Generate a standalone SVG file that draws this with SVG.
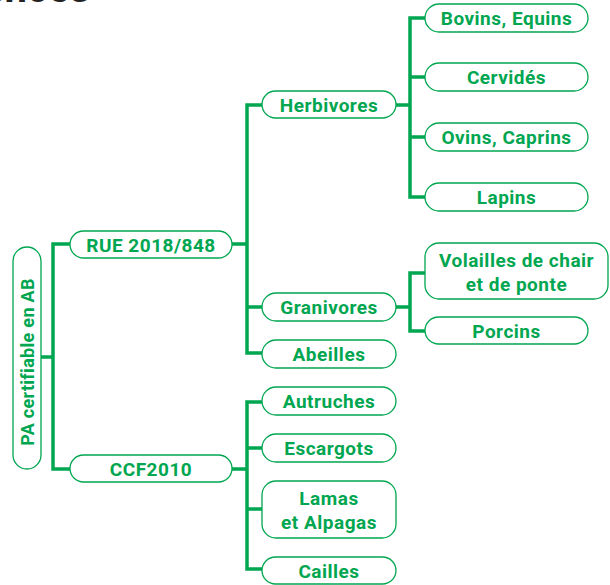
<svg xmlns="http://www.w3.org/2000/svg" width="610" height="585" viewBox="0 0 610 585">
<style>
.box{fill:#fff;stroke:#00a650;stroke-width:1.3}
.lbl{font-family:Roboto,"Liberation Sans",sans-serif;font-weight:700;font-size:19px;letter-spacing:0.5px;fill:#00a650;text-anchor:middle}
.con{fill:none;stroke:#00a650;stroke-width:3.5}
</style>
<rect width="610" height="585" fill="#fff"/>
<text x="90" y="1.5" font-family="Roboto,'Liberation Sans',sans-serif" font-weight="700" font-size="40" fill="#222" text-anchor="end">ences</text>
<g id="connectors" class="con">
<path d="M41,357H53M70,244H53V469H70"/>
<path d="M232,244H247M262,105H247V353H262M247,307H262"/>
<path d="M396,105H410M425,18H410V197H425M410,77H425M410,137H425"/>
<path d="M396,307H410M425,273H410V331H425"/>
<path d="M232,469H247M262,402H247V569H262M247,448H262M247,509H262"/>
</g>
<g id="root"><rect class="box" x="13" y="247" width="28" height="222" rx="14"/><text class="lbl" style="font-size:18px;letter-spacing:0.3px" transform="translate(34,362) rotate(-90)">PA certifiable en AB</text></g>
<g id="rue"><rect class="box" x="70" y="231" width="162" height="27" rx="13.5"/><text class="lbl" x="151" y="251.5">RUE 2018/848</text></g>
<g id="ccf"><rect class="box" x="70" y="455" width="162" height="27" rx="13.5"/><text class="lbl" x="151" y="475.5">CCF2010</text></g>
<g id="herbivores"><rect class="box" x="262" y="91" width="134" height="27" rx="13.5"/><text class="lbl" x="329" y="111.5">Herbivores</text></g>
<g id="granivores"><rect class="box" x="262" y="293" width="134" height="28" rx="14"/><text class="lbl" x="329" y="313.7">Granivores</text></g>
<g id="abeilles"><rect class="box" x="262" y="340" width="134" height="28" rx="14"/><text class="lbl" x="329" y="360.7">Abeilles</text></g>
<g id="bovins"><rect class="box" x="425" y="4" width="163" height="28" rx="14"/><text class="lbl" x="506.5" y="24.7">Bovins, Equins</text></g>
<g id="cervides"><rect class="box" x="425" y="63" width="163" height="28" rx="14"/><text class="lbl" x="506.5" y="83.7">Cervidés</text></g>
<g id="ovins"><rect class="box" x="425" y="123" width="163" height="28" rx="14"/><text class="lbl" x="506.5" y="143.7">Ovins, Caprins</text></g>
<g id="lapins"><rect class="box" x="425" y="183" width="163" height="28" rx="14"/><text class="lbl" x="506.5" y="203.7">Lapins</text></g>
<g id="volailles"><rect class="box" x="425" y="243" width="183" height="56" rx="14"/><text class="lbl" x="516.5" y="267">Volailles de chair</text><text class="lbl" x="516.5" y="291">et de ponte</text></g>
<g id="porcins"><rect class="box" x="425" y="317" width="163" height="27" rx="13.5"/><text class="lbl" x="506.5" y="337.5">Porcins</text></g>
<g id="autruches"><rect class="box" x="262" y="387" width="134" height="28" rx="14"/><text class="lbl" x="329" y="407.7">Autruches</text></g>
<g id="escargots"><rect class="box" x="262" y="434" width="134" height="28" rx="14"/><text class="lbl" x="329" y="454.7">Escargots</text></g>
<g id="lamas"><rect class="box" x="262" y="481" width="134" height="57" rx="14"/><text class="lbl" x="329" y="504.5">Lamas</text><text class="lbl" x="329" y="528.5">et Alpagas</text></g>
<g id="cailles"><rect class="box" x="262" y="557" width="134" height="27" rx="13.5"/><text class="lbl" x="329" y="577.5">Cailles</text></g>
</svg>
